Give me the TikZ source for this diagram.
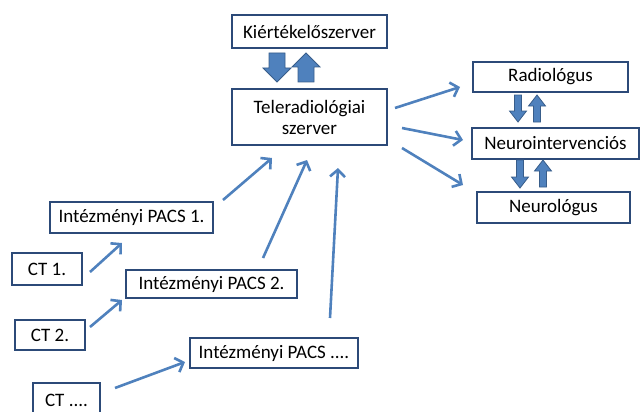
\documentclass[tikz,border=0pt]{standalone}
\usepackage{fontspec}
\setmainfont{Carlito}
\usetikzlibrary{arrows.meta}
\definecolor{boxblue}{RGB}{44,74,120}
\definecolor{arrblue}{RGB}{79,129,189}
\definecolor{arredge}{RGB}{56,93,138}
\newcommand\bdown[6]{% cx, ytop, ybot, shaft half, head half, head length
  \filldraw[fill=arrblue,draw=arredge,line width=0.8pt]
    (#1-#4,#2) -- (#1+#4,#2) -- (#1+#4,#3-#6) -- (#1+#5,#3-#6) -- (#1,#3)
    -- (#1-#5,#3-#6) -- (#1-#4,#3-#6) -- cycle;}
\newcommand\bup[6]{% cx, ytop, ybot, shaft half, head half, head length
  \filldraw[fill=arrblue,draw=arredge,line width=0.8pt]
    (#1-#4,#3) -- (#1+#4,#3) -- (#1+#4,#2+#6) -- (#1+#5,#2+#6) -- (#1,#2)
    -- (#1-#5,#2+#6) -- (#1-#4,#2+#6) -- cycle;}
\begin{document}
\begin{tikzpicture}[x=1pt,y=-1pt,
  box/.style={draw=boxblue,line width=2.4pt,fill=white,inner sep=0pt,
    font=\fontsize{19}{21}\selectfont,align=center},
  arr/.style={draw=arrblue,line width=2.6pt,-{Straight Barb[length=7pt,width=15pt]}}]
\useasboundingbox (0,0) rectangle (640,412);
% nodes
\node[box,minimum width=155pt,minimum height=33pt] (kiert) at (309.5,31.5) {Kiértékelőszerver};
\node[box,minimum width=155pt,minimum height=56pt] (tele) at (309.5,117) {Teleradiológiai\\szerver};
\node[box,minimum width=155pt,minimum height=30pt] (radio) at (550.5,77) {Radiológus};
\node[box,minimum width=167pt,minimum height=31pt] (neuroint) at (555.5,143.5) {Neurointervenciós};
\node[box,minimum width=153pt,minimum height=31pt] (neuro) at (553.5,207.5) {Neurológus};
\node[box,minimum width=163pt,minimum height=31pt] (pacs1) at (131.5,217.5) {Intézményi PACS 1.};
\node[box,minimum width=70pt,minimum height=32pt] (ct1) at (47,269) {CT 1.};
\node[box,minimum width=171pt,minimum height=28pt] (pacs2) at (211.5,284) {Intézményi PACS 2.};
\node[box,minimum width=70pt,minimum height=30pt] (ct2) at (50,335) {CT 2.};
\node[box,minimum width=168pt,minimum height=30pt] (pacs3) at (274,353) {Intézményi PACS ....};
\node[box,minimum width=67pt,minimum height=34pt] (ct3) at (66.5,400) {CT ....};
% block arrows
\bdown{277}{53}{82}{8}{14}{14}
\bup{306}{53}{82}{8}{14}{14}
\bdown{518}{95}{122}{3.5}{8.5}{11}
\bup{537}{95}{122}{3.5}{8.5}{11}
\bdown{520}{160}{188}{3.5}{8.5}{11}
\bup{543}{160}{187}{3.5}{8.5}{11}
% connector end points
\coordinate (t1s) at (395,108); \coordinate (t1e) at (460,87);
\coordinate (t2s) at (402,128); \coordinate (t2e) at (463,140);
\coordinate (t3s) at (402,148); \coordinate (t3e) at (463,185);
\coordinate (c1s) at (90,272);  \coordinate (c1e) at (122,243);
\coordinate (c2s) at (90,327);  \coordinate (c2e) at (122,300);
\coordinate (c3s) at (115,388); \coordinate (c3e) at (185,362);
\coordinate (p1s) at (223,200); \coordinate (p1e) at (272,158);
\coordinate (p2s) at (263,258); \coordinate (p2e) at (307,160);
\coordinate (p3s) at (330,318); \coordinate (p3e) at (338,168);
% connectors
\draw[arr] (t1s) -- (t1e);
\draw[arr] (t2s) -- (t2e);
\draw[arr] (t3s) -- (t3e);
\draw[arr] (c1s) -- (c1e);
\draw[arr] (c2s) -- (c2e);
\draw[arr] (c3s) -- (c3e);
\draw[arr] (p1s) -- (p1e);
\draw[arr] (p2s) -- (p2e);
\draw[arr] (p3s) -- (p3e);
\end{tikzpicture}
\end{document}
